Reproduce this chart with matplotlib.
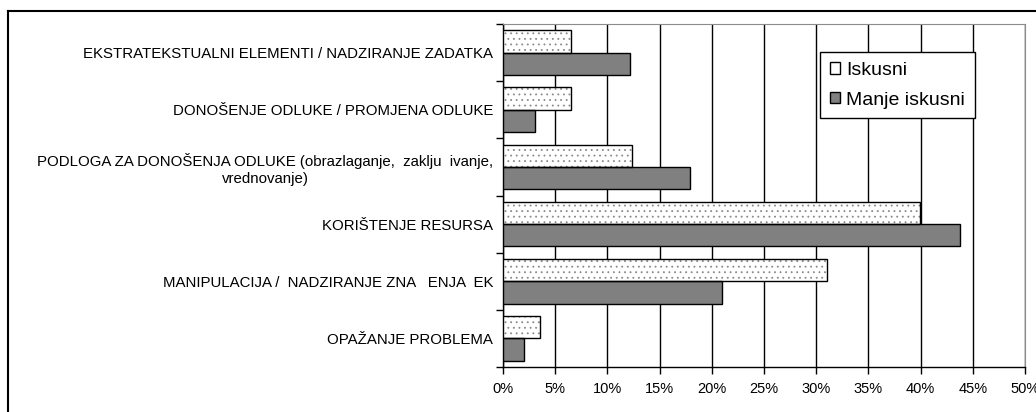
import matplotlib.pyplot as plt
import numpy as np
from matplotlib.lines import Line2D
from matplotlib.patches import Patch

plt.rcParams['font.family'] = ['Liberation Sans', 'DejaVu Sans']
plt.rcParams['hatch.linewidth'] = 0.6

# Podaci (odozgo prema dolje)
categories = [
    "EKSTRATEKSTUALNI ELEMENTI / NADZIRANJE ZADATKA",
    "DONOŠENJE ODLUKE / PROMJENA ODLUKE",
    "PODLOGA ZA DONOŠENJA ODLUKE (obrazlaganje,  zaklju  ivanje,\nvrednovanje)",
    "KORIŠTENJE RESURSA",
    "MANIPULACIJA /  NADZIRANJE ZNA   ENJA  EK",
    "OPAŽANJE PROBLEMA",
]
iskusni = [6.5, 6.5, 12.4, 39.9, 31.0, 3.5]
manje_iskusni = [12.2, 3.1, 17.9, 43.8, 21.0, 2.0]
xticks = list(range(0, 55, 5))

fig = plt.figure(figsize=(10.36, 4.12), dpi=100)
ax = fig.add_axes([0.4855, 0.1092, 0.5039, 0.8325])

n = len(categories)
y = np.arange(n)[::-1]
h = 0.39
# tockice sive, rub crni -> dva sloja
ax.barh(y + h / 2, iskusni, height=h, color='white', edgecolor='#8a8a8a',
        hatch='...', linewidth=0, zorder=3)
ax.barh(y + h / 2, iskusni, height=h, color='none', edgecolor='black',
        linewidth=1.0, zorder=4)
ax.barh(y - h / 2, manje_iskusni, height=h, color='#808080', edgecolor='black',
        linewidth=1.0, zorder=3)

ax.set_xlim(0, 50)
ax.set_ylim(-0.5, n - 0.5)
ax.set_xticks(xticks)
ax.set_xticklabels([f"{v}%" for v in xticks], fontsize=10.5)
ax.set_yticks(y)
ax.set_yticklabels(categories, fontsize=10.8, multialignment='center')
ax.set_yticks(np.arange(n + 1) - 0.5, minor=True)
ax.tick_params(axis='y', which='major', length=0, pad=7)
ax.tick_params(axis='y', which='minor', length=5, width=1, direction='out')
ax.tick_params(axis='x', length=5, width=1, direction='out', pad=6)

# Mreža
ax.xaxis.grid(True, color='black', linewidth=1.0, zorder=0)
ax.set_axisbelow(True)
ax.spines['left'].set_linewidth(1.0)
ax.spines['bottom'].set_linewidth(1.0)
ax.spines['top'].set_color('#8c8c8c')
ax.spines['right'].set_color('#8c8c8c')

# Legenda
handles = [Patch(facecolor='white', edgecolor='black', label='Iskusni'),
           Patch(facecolor='#808080', edgecolor='black', label='Manje iskusni')]
leg = ax.legend(handles=handles, loc='upper left', bbox_to_anchor=(0.607, 0.918),
                fontsize=14, frameon=True, fancybox=False, framealpha=1,
                handlelength=0.55, handleheight=0.55, handletextpad=0.3,
                borderpad=0.5, labelspacing=0.65, borderaxespad=0)
leg.get_frame().set_edgecolor('black')
leg.get_frame().set_linewidth(1.0)

# Vanjski okvir
fig.add_artist(Line2D([8 / 1036, 1], [1 - 11 / 412, 1 - 11 / 412],
                      transform=fig.transFigure, color='black', lw=1.5))
fig.add_artist(Line2D([8 / 1036, 8 / 1036], [0, 1 - 11 / 412],
                      transform=fig.transFigure, color='black', lw=1.5))

fig.savefig("out.png", dpi=100)
